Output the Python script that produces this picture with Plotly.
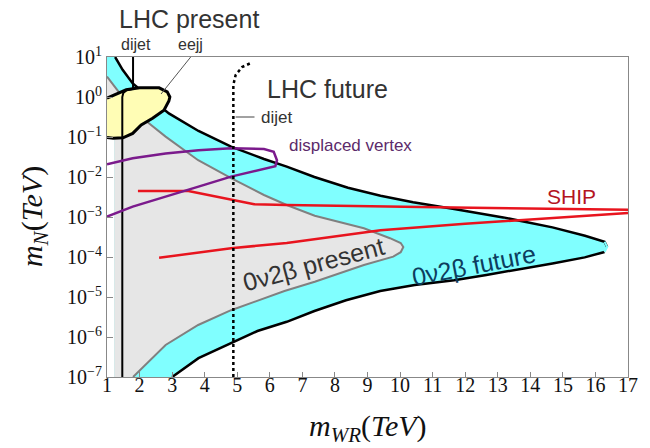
import plotly.graph_objects as go

# ---------------- data (x = m_WR in TeV, lg = log10(m_N / TeV)) ----------------
x_future_upper = [1.25, 1.48, 1.79, 2.9, 3.81, 4.81, 5.82, 6.52, 7.37, 8.4, 9.4, 10.4, 11.66, 13.17, 14.68, 15.68, 16.28, 16.36]
lg_future_upper = [1.0, 0.68, 0.34, -0.41, -0.85, -1.24, -1.55, -1.74, -2.0, -2.27, -2.47, -2.63, -2.8, -3.01, -3.26, -3.47, -3.62, -3.75]
x_future_lower = [16.36, 16.28, 15.67, 14.68, 13.68, 12.65, 11.66, 10.45, 9.39, 8.34, 7.37, 6.52, 5.62, 4.8, 3.81, 3.0]
lg_future_lower = [-3.75, -3.875, -4.01, -4.16, -4.31, -4.45, -4.58, -4.7, -4.85, -5.08, -5.35, -5.62, -5.85, -6.15, -6.53, -7.0]

x_present = [1.0, 1.79, 2.2, 2.8, 3.8, 4.81, 5.82, 6.52, 7.38, 8.89, 9.69, 10.02, 10.1, 10.02, 9.79, 8.89, 7.38, 6.45, 4.81, 3.8, 2.8, 1.9, 1.8]
lg_present = [0.51, -0.33, -0.6, -0.99, -1.58, -2.03, -2.45, -2.7, -2.97, -3.28, -3.53, -3.65, -3.75, -3.88, -3.99, -4.2, -4.62, -4.85, -5.33, -5.7, -6.2, -6.9, -7.0]

x_eejj = [1.0, 1.39, 1.59, 2.0, 2.6, 2.85, 2.93, 2.9, 2.75, 2.4, 2.05, 1.79, 1.49, 1.19, 1.0]
lg_eejj = [-0.03, 0.11, 0.18, 0.23, 0.23, 0.13, 0.0, -0.1, -0.33, -0.53, -0.7, -0.91, -1.02, -1.03, -1.01]

x_dijet_present = [1.8, 1.8, 1.6, 1.5, 1.47, 1.47]
lg_dijet_present = [1.0, 0.2, 0.17, 0.1, 0.0, -7.0]

x_dijet_future = [4.88, 4.88, 4.95, 5.15, 5.42]
lg_dijet_future = [-7.0, 0.3, 0.55, 0.75, 0.85]

x_displaced = [1.0, 1.79, 2.8, 3.81, 4.81, 5.82, 6.12, 6.22, 6.17, 4.81, 3.81, 2.8, 1.79, 1.0]
lg_displaced = [-1.68, -1.53, -1.41, -1.33, -1.28, -1.3, -1.37, -1.58, -1.73, -1.99, -2.24, -2.49, -2.74, -2.99]

x_ship_upper = [1.95, 3.5, 5.52, 6.52, 11.66, 17.0]
lg_ship_upper = [-2.35, -2.35, -2.68, -2.7, -2.76, -2.82]
x_ship_lower = [2.6, 4.81, 6.52, 9.4, 12.0, 13.67, 17.0]
lg_ship_lower = [-4.02, -3.78, -3.65, -3.33, -3.17, -3.08, -2.9]

x_eejj_pointer = [3.57, 2.66]
lg_eejj_pointer = [1.0, 0.075]
x_dijet_pointer = [4.95, 5.53]
lg_dijet_pointer = [-0.5, -0.5]

x_ticks = list(range(1, 18))
y_exponents = [-7, -6, -5, -4, -3, -2, -1, 0, 1]

# -------------------------------------------------------------------------------
def P(lg):
    return [10.0 ** v for v in lg]

CYAN = "rgb(128,255,255)"
GRAYFILL = "#E6E6E6"
fig = go.Figure()

# 0v2b future region (cyan)
cx = x_future_upper + x_future_lower[1:] + [1.22, 1.22, 1.0, 1.0]
cl = lg_future_upper + lg_future_lower[1:] + [-7.0, -1.0, -1.0, 1.0]
fig.add_trace(go.Scatter(x=cx, y=P(cl), mode="lines", fill="toself", fillcolor=CYAN,
                         line=dict(width=0), hoverinfo="skip"))
# 0v2b present region (gray)
gx = x_present + [1.22, 1.22, 1.0]
gl = lg_present + [-7.0, -1.03, -1.03]
fig.add_trace(go.Scatter(x=gx, y=P(gl), mode="lines", fill="toself", fillcolor=GRAYFILL,
                         line=dict(width=0), hoverinfo="skip"))
fig.add_trace(go.Scatter(x=x_present, y=P(lg_present), mode="lines",
                         line=dict(color="#808080", width=2), hoverinfo="skip"))
# future boundary lines
fig.add_trace(go.Scatter(x=x_future_upper, y=P(lg_future_upper), mode="lines",
                         line=dict(color="black", width=2.5), hoverinfo="skip"))
fig.add_trace(go.Scatter(x=x_future_lower[1:], y=P(lg_future_lower[1:]), mode="lines",
                         line=dict(color="black", width=2.5), hoverinfo="skip"))
fig.add_trace(go.Scatter(x=[x_future_upper[-2], x_future_upper[-1], x_future_lower[1]],
                         y=P([lg_future_upper[-2], lg_future_upper[-1], lg_future_lower[1]]),
                         mode="lines", line=dict(color=CYAN, width=2), hoverinfo="skip"))
# LHC present eejj blob
fig.add_trace(go.Scatter(x=x_eejj, y=P(lg_eejj), mode="lines", fill="toself", fillcolor="#FFFDB5",
                         line=dict(width=0), hoverinfo="skip"))
fig.add_trace(go.Scatter(x=x_eejj, y=P(lg_eejj), mode="lines",
                         line=dict(color="black", width=3), hoverinfo="skip"))
# LHC present dijet
fig.add_trace(go.Scatter(x=x_dijet_present, y=P(lg_dijet_present), mode="lines",
                         line=dict(color="black", width=2), hoverinfo="skip"))
# SHIP
fig.add_trace(go.Scatter(x=x_ship_upper, y=P(lg_ship_upper), mode="lines",
                         line=dict(color="#E8141E", width=2.5), hoverinfo="skip"))
fig.add_trace(go.Scatter(x=x_ship_lower, y=P(lg_ship_lower), mode="lines",
                         line=dict(color="#E8141E", width=2.5), hoverinfo="skip"))
# displaced vertex
fig.add_trace(go.Scatter(x=x_displaced, y=P(lg_displaced), mode="lines",
                         line=dict(color="#7B1A8C", width=2.5), hoverinfo="skip"))
# LHC future dijet (dotted)
fig.add_trace(go.Scatter(x=x_dijet_future, y=P(lg_dijet_future), mode="lines",
                         line=dict(color="black", width=2.5, dash="dot"), hoverinfo="skip"))
# pointers
fig.add_trace(go.Scatter(x=x_eejj_pointer, y=P(lg_eejj_pointer), mode="lines",
                         line=dict(color="#555555", width=1), hoverinfo="skip"))
fig.add_trace(go.Scatter(x=x_dijet_pointer, y=P(lg_dijet_pointer), mode="lines",
                         line=dict(color="#444444", width=1), hoverinfo="skip"))

SANS = "Liberation Sans, Arial, sans-serif"
SERIF = "Liberation Serif, Times New Roman, serif"

def ann(text, x, y, size, color, xanchor="left", angle=0, family=SANS, xref="x", yref="y"):
    fig.add_annotation(text=text, x=x, y=y, xref=xref, yref=yref, showarrow=False,
                       xanchor=xanchor, yanchor="middle", textangle=angle,
                       font=dict(family=family, size=size, color=color))

# labels above the plot area (paper coordinates)
ann("LHC present", 0.02, 1.12, 25, "#333333", xref="paper", yref="paper")
ann("dijet", 0.023, 1.04, 16, "#333333", xref="paper", yref="paper")
ann("eejj", 0.132, 1.04, 16, "#333333", xref="paper", yref="paper")
# labels inside the plot (data coordinates, log10 for y)
ann("LHC future", 5.86, 0.2, 25, "#333333")
ann("dijet", 5.68, -0.5, 17, "#333333")
ann("displaced vertex", 6.52, -1.21, 17, "#5C2A6A")
ann("SHIP", 14.46, -2.475, 21, "#B4141E")
ann("0ν2β present", 7.35, -4.18, 25, "#333333", xanchor="center", angle=-15)
ann("0ν2β future", 12.28, -4.2, 25, "#0D3D5E", xanchor="center", angle=-11)

# axis titles
ann("<i>m</i><sub><i>WR</i></sub>(<i>TeV</i>)", 0.5, -0.16, 30, "#111111", xanchor="center",
    family=SERIF, xref="paper", yref="paper")
ann("<i>m</i><sub><i>N</i></sub>(<i>TeV</i>)", -0.14, 0.5, 30, "#111111", xanchor="center",
    angle=-90, family=SERIF, xref="paper", yref="paper")

fig.update_layout(
    width=650, height=448, autosize=False,
    margin=dict(l=107, r=13, t=57, b=71, pad=0),
    paper_bgcolor="white", plot_bgcolor="white",
    showlegend=False, hovermode=False,
    xaxis=dict(range=[1, 17], tickmode="array", tickvals=x_ticks, ticktext=[str(v) for v in x_ticks],
               ticks="inside", ticklen=5, tickcolor="#888888", showline=True, linecolor="#888888",
               linewidth=1, mirror=True, showgrid=False, zeroline=False, ticklabelstandoff=-10,
               tickfont=dict(family=SERIF, size=20, color="#111111")),
    yaxis=dict(type="log", range=[-7, 1], tickmode="array", tickvals=[10.0 ** e for e in y_exponents],
               ticktext=["10<sup>%s</sup>" % (str(e).replace("-", "\u2212")) for e in y_exponents],
               ticks="inside", ticklen=6, tickcolor="#888888", showline=True, linecolor="#888888",
               linewidth=1, mirror=True, showgrid=False, zeroline=False,
               tickfont=dict(family=SERIF, size=20, color="#111111")),
)

fig.write_html("out.html")
